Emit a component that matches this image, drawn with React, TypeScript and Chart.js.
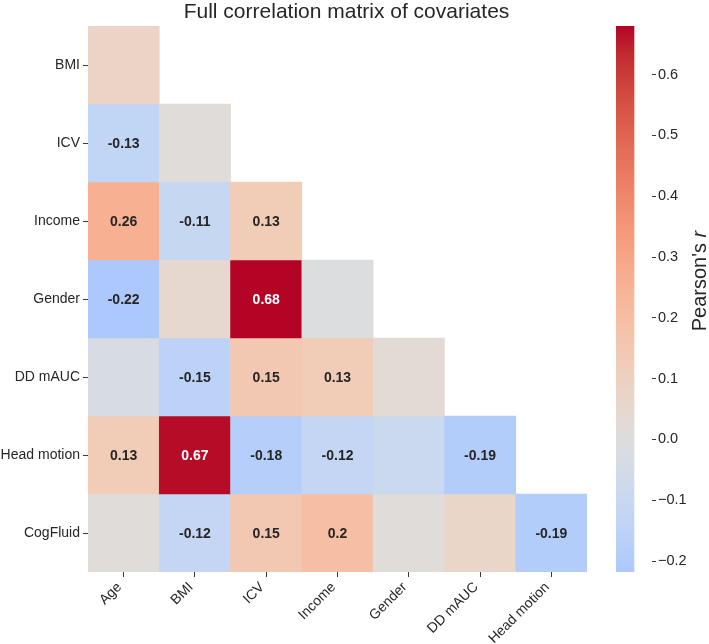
import React, { useEffect, useRef } from "react";
import { Chart, registerables } from "chart.js";

Chart.register(...registerables);

// ---------- data ----------
const columnLabels = ["Age", "BMI", "ICV", "Income", "Gender", "DD mAUC", "Head motion"];
const rowLabels = ["BMI", "ICV", "Income", "Gender", "DD mAUC", "Head motion", "CogFluid"];

const rBMI = [0.08];
const rICV = [-0.13, 0.01];
const rIncome = [0.26, -0.11, 0.13];
const rGender = [-0.22, 0.05, 0.68, -0.01];
const rDDmAUC = [-0.03, -0.15, 0.15, 0.13, 0.03];
const rHeadMotion = [0.13, 0.67, -0.18, -0.12, -0.09, -0.19];
const rCogFluid = [0.01, -0.12, 0.15, 0.2, 0.01, 0.07, -0.19];
const rowValues = [rBMI, rICV, rIncome, rGender, rDDmAUC, rHeadMotion, rCogFluid];

const colorbarTicks = [-0.2, -0.1, 0.0, 0.1, 0.2, 0.3, 0.4, 0.5, 0.6];
const colorMin = -0.218;
const colorMax = 0.68;
const colorCenter = 0;
const annotThreshold = 0.1;

const titleText = "Full correlation matrix of covariates";
const cbarLabelMain = "Pearson's ";
const cbarLabelItalic = "r";

// ---------- colormap (coolwarm) ----------
const coolwarmStops: number[][] = [
  [59, 76, 192], [68, 90, 204], [77, 104, 215], [87, 117, 225], [98, 130, 234],
  [108, 142, 241], [119, 154, 247], [130, 165, 251], [141, 176, 254], [152, 185, 255],
  [163, 194, 255], [174, 201, 253], [184, 208, 249], [194, 213, 244], [204, 217, 238],
  [213, 219, 230], [221, 221, 221], [229, 216, 209], [236, 211, 197], [241, 204, 184],
  [245, 196, 172], [247, 187, 159], [247, 177, 147], [247, 166, 134], [244, 154, 123],
  [241, 141, 111], [236, 127, 99], [229, 112, 89], [222, 96, 77], [213, 80, 66],
  [203, 62, 56], [192, 40, 47], [180, 4, 38],
];

function coolwarmRGB(t: number): number[] {
  const tt = Math.max(0, Math.min(1, t));
  const pos = tt * (coolwarmStops.length - 1);
  const i = Math.min(coolwarmStops.length - 2, Math.floor(pos));
  const f = pos - i;
  const a = coolwarmStops[i];
  const b = coolwarmStops[i + 1];
  return [0, 1, 2].map((k) => a[k] + (b[k] - a[k]) * f);
}

const vrange = Math.max(colorMax - colorCenter, colorCenter - colorMin);
function valueRGB(v: number): number[] {
  return coolwarmRGB((v - (colorCenter - vrange)) / (2 * vrange));
}
function valueColor(v: number): string {
  const c = valueRGB(v);
  return `rgb(${Math.round(c[0])},${Math.round(c[1])},${Math.round(c[2])})`;
}
function textColorFor(v: number): string {
  const c = valueRGB(v).map((x) => {
    const s = x / 255;
    return s <= 0.03928 ? s / 12.92 : Math.pow((s + 0.055) / 1.055, 2.4);
  });
  const lum = 0.2126 * c[0] + 0.7152 * c[1] + 0.0722 * c[2];
  return lum > 0.408 ? "#262626" : "#ffffff";
}
function formatValue(v: number): string {
  return String(Math.round(v * 100) / 100);
}

const FONT = "'Liberation Sans', Arial, Helvetica, sans-serif";
const TEXT = "#262626";
const TICK = "#3a3a3a";

export default function App() {
  const mainRef = useRef<HTMLCanvasElement>(null);
  const cbRef = useRef<HTMLCanvasElement>(null);

  useEffect(() => {
    if (!mainRef.current || !cbRef.current) return;

    const datasets = rowValues.map((vals, i) => ({
      label: rowLabels[i],
      data: columnLabels.map((_, j) => (j < vals.length ? [i - 0.5, i + 0.5] : null)),
      backgroundColor: columnLabels.map((_, j) =>
        j < vals.length ? valueColor(vals[j]) : "rgba(0,0,0,0)"
      ),
      borderWidth: 0,
      barPercentage: 1,
      categoryPercentage: 1,
      grouped: false,
    }));

    const annotPlugin = {
      id: "annotations",
      afterDatasetsDraw(chart: any) {
        const ctx = chart.ctx;
        ctx.save();
        ctx.font = `bold 14px ${FONT}`;
        ctx.textAlign = "center";
        ctx.textBaseline = "middle";
        rowValues.forEach((vals, i) => {
          const meta = chart.getDatasetMeta(i);
          vals.forEach((v, j) => {
            if (Math.abs(v) < annotThreshold) return;
            const el = meta.data[j];
            if (!el) return;
            const cx = el.x;
            const cy = (el.y + el.base) / 2;
            ctx.fillStyle = textColorFor(v);
            ctx.fillText(formatValue(v), cx, cy + 1);
          });
        });
        ctx.restore();
      },
      afterDraw(chart: any) {
        const ctx = chart.ctx;
        ctx.save();
        ctx.font = `21px ${FONT}`;
        ctx.fillStyle = TEXT;
        ctx.textAlign = "center";
        ctx.textBaseline = "alphabetic";
        ctx.fillText(titleText, 346.5, 18);
        ctx.restore();
      },
    };

    const main = new Chart(mainRef.current, {
      type: "bar",
      data: { labels: columnLabels, datasets: datasets as any },
      options: {
        animation: false,
        responsive: false,
        maintainAspectRatio: false,
        layout: { padding: { top: 26, right: 122, left: 0, bottom: 0 } },
        plugins: {
          legend: { display: false },
          tooltip: { enabled: false },
          title: { display: false },
        },
        scales: {
          x: {
            type: "category",
            grid: {
              offset: false,
              drawOnChartArea: false,
              drawTicks: true,
              tickLength: 5,
              tickColor: TICK,
              tickWidth: 1,
            },
            border: { display: false },
            ticks: {
              minRotation: 45,
              maxRotation: 45,
              autoSkip: false,
              padding: 2,
              labelOffset: -4,
              color: TEXT,
              font: { family: FONT, size: 14 },
            },
            afterFit: (s: any) => {
              s.height = 72;
            },
          },
          y: {
            type: "linear",
            reverse: true,
            min: -0.5,
            max: rowLabels.length - 0.5,
            afterBuildTicks: (s: any) => {
              s.ticks = rowLabels.map((_, i) => ({ value: i }));
            },
            grid: {
              drawOnChartArea: false,
              drawTicks: true,
              tickLength: 5,
              tickColor: TICK,
              tickWidth: 1,
            },
            border: { display: false },
            ticks: {
              padding: 3,
              color: TEXT,
              font: { family: FONT, size: 14 },
              callback: (v: any) => rowLabels[Number(v)] ?? "",
            },
            afterFit: (s: any) => {
              s.width = 88;
            },
          },
        },
      } as any,
      plugins: [annotPlugin],
    });

    const cbarLabelPlugin = {
      id: "cbarLabel",
      afterDraw(chart: any) {
        const ctx = chart.ctx;
        ctx.save();
        ctx.translate(146, 281);
        ctx.rotate(-Math.PI / 2);
        ctx.fillStyle = TEXT;
        ctx.textBaseline = "alphabetic";
        ctx.font = `20px ${FONT}`;
        const w1 = ctx.measureText(cbarLabelMain).width;
        ctx.font = `italic 20px ${FONT}`;
        const w2 = ctx.measureText(cbarLabelItalic).width;
        const start = -(w1 + w2) / 2;
        ctx.textAlign = "left";
        ctx.font = `20px ${FONT}`;
        ctx.fillText(cbarLabelMain, start, 0);
        ctx.font = `italic 20px ${FONT}`;
        ctx.fillText(cbarLabelItalic, start + w1, 0);
        ctx.restore();
      },
    };

    const cbar = new Chart(cbRef.current, {
      type: "bar",
      data: {
        labels: [""],
        datasets: [
          {
            data: [[colorMin, colorMax]] as any,
            backgroundColor: (c: any) => {
              const chart = c.chart;
              const area = chart.chartArea;
              if (!area) return "rgba(0,0,0,0)";
              const y0 = chart.scales.y.getPixelForValue(colorMin);
              const y1 = chart.scales.y.getPixelForValue(colorMax);
              const g = chart.ctx.createLinearGradient(0, y0, 0, y1);
              const N = 40;
              for (let k = 0; k <= N; k++) {
                const v = colorMin + ((colorMax - colorMin) * k) / N;
                g.addColorStop(k / N, valueColor(v));
              }
              return g;
            },
            borderWidth: 0,
            barPercentage: 1,
            categoryPercentage: 1,
          },
        ],
      },
      options: {
        animation: false,
        responsive: false,
        maintainAspectRatio: false,
        layout: { padding: { left: 56, top: 26, bottom: 72, right: 0 } },
        plugins: {
          legend: { display: false },
          tooltip: { enabled: false },
          title: { display: false },
        },
        scales: {
          x: { display: false, offset: false },
          y: {
            type: "linear",
            position: "right",
            min: colorMin,
            max: colorMax,
            afterBuildTicks: (s: any) => {
              s.ticks = colorbarTicks.map((v) => ({ value: v }));
            },
            grid: {
              drawOnChartArea: false,
              drawTicks: true,
              tickLength: 4,
              tickColor: TICK,
              tickWidth: 1,
            },
            border: { display: false },
            ticks: {
              padding: 2,
              color: TEXT,
              font: { family: FONT, size: 14.5 },
              callback: (v: any) => {
                const n = Number(v);
                const s = Math.abs(n).toFixed(1);
                return n < -1e-9 ? "\u2212" + s : s;
              },
            },
            afterFit: (s: any) => {
              s.width = 57;
            },
          },
        },
      } as any,
      plugins: [cbarLabelPlugin],
    });

    return () => {
      main.destroy();
      cbar.destroy();
    };
  }, []);

  return (
    <div style={{ position: "absolute", left: 0, top: 0, width: 709, height: 644, background: "#ffffff" }}>
      <canvas ref={mainRef} width={709} height={644} style={{ position: "absolute", left: 0, top: 0 }} />
      <canvas ref={cbRef} width={149} height={644} style={{ position: "absolute", left: 560, top: 0 }} />
    </div>
  );
}
